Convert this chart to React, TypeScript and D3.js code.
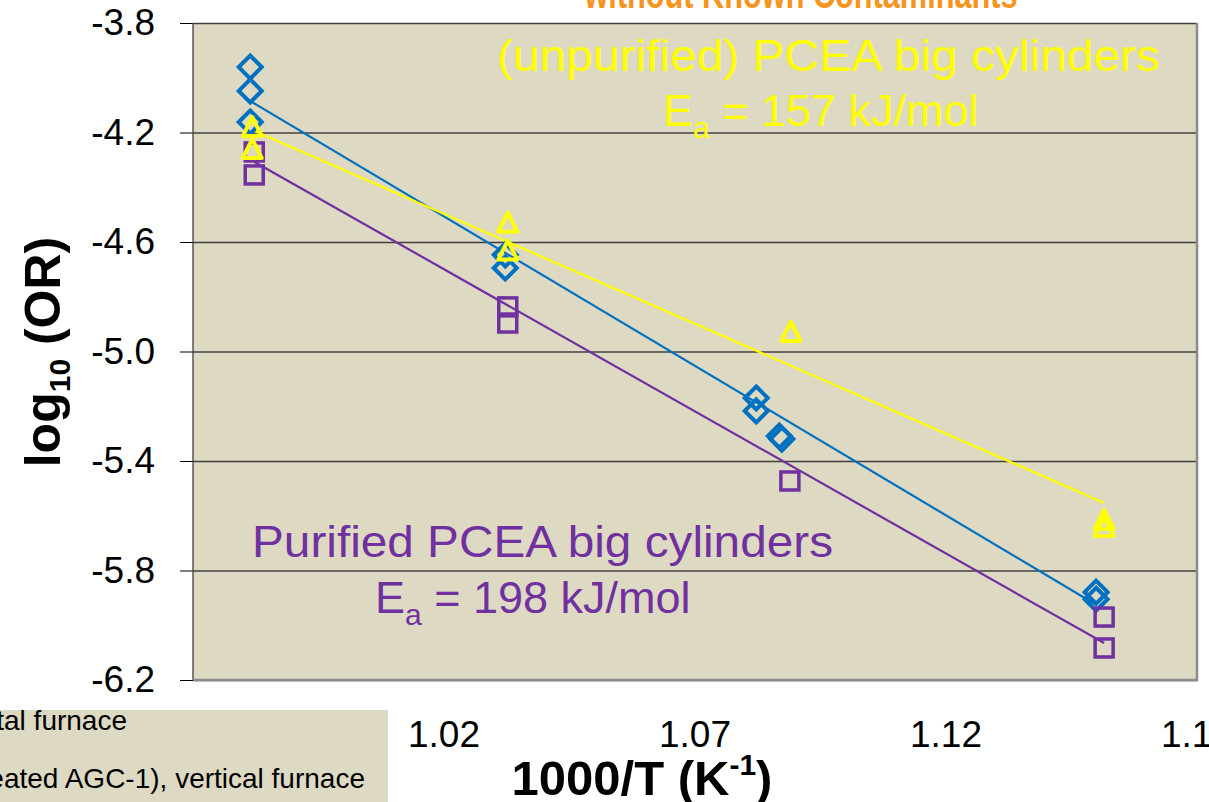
import React, { useEffect, useRef } from 'react';
import * as d3 from 'd3';

// series: 1000/T (K^-1) and log10(OR)
const diamondX = [0.9814, 0.9814, 0.9814, 1.0322, 1.0322, 1.0822, 1.0822, 1.0868, 1.0873, 1.1499, 1.1499];
const diamondY = [-3.961, -4.048, -4.162, -4.647, -4.695, -5.170, -5.217, -5.309, -5.320, -5.879, -5.905];

const squareX = [0.9822, 0.9822, 1.0327, 1.0327, 1.0889, 1.1515, 1.1515];
const squareY = [-4.271, -4.355, -4.837, -4.896, -5.473, -5.970, -6.083];

const triangleX = [0.9818, 0.9818, 1.0327, 1.0327, 1.0891, 1.1515, 1.1515];
const triangleY = [-4.184, -4.264, -4.533, -4.635, -4.932, -5.619, -5.645];

// trendline end points (Excel linear fits)
const blueFitX = [0.9814, 1.1499];
const blueFitY = [-4.085, -5.925];
const purpleFitX = [0.9822, 1.1515];
const purpleFitY = [-4.307, -6.065];
const yellowFitX = [0.9818, 1.1515];
const yellowFitY = [-4.191, -5.553];

const yTicks = [-3.8, -4.2, -4.6, -5.0, -5.4, -5.8, -6.2];
const xTicks = [1.02, 1.07, 1.12, 1.17];

const WIDTH = 1209;
const HEIGHT = 802;
const FONT = 'Arial, "Liberation Sans", sans-serif';
const BLUE = '#0070C0';
const PURPLE = '#7030A0';
const YELLOW = '#FFFF00';
const TAN = '#DDD9C3';

const App = () => {
  const svgRef = useRef<SVGSVGElement>(null);

  useEffect(() => {
    if (!svgRef.current) return;
    const svg = d3.select(svgRef.current);
    svg.selectAll('*').remove();

    const left = 193, right = 1197, top = 23, bottom = 680;

    const x = d3.scaleLinear().domain([0.97, 1.17]).range([left, right]);
    const y = d3.scaleLinear().domain([-3.8, -6.2]).range([top, bottom]);

    // title, cut off at the top of the picture
    svg.append('text')
      .attr('x', 801).attr('y', 8)
      .attr('text-anchor', 'middle')
      .attr('font-family', FONT).attr('font-weight', 'bold').attr('font-size', 40)
      .attr('fill', '#F7941D')
      .attr('textLength', 433).attr('lengthAdjust', 'spacingAndGlyphs')
      .text('without Known Contaminants');

    // plot area
    svg.append('rect')
      .attr('x', left).attr('y', top)
      .attr('width', right - left).attr('height', bottom - top)
      .attr('fill', TAN);

    // gridlines + y axis
    const yAxis = svg.append('g')
      .attr('transform', `translate(${left},0)`)
      .call(d3.axisLeft(y).tickValues(yTicks).tickSize(13).tickFormat(d => (+d).toFixed(1)))
      .call(g => g.select('.domain').remove());
    yAxis.selectAll('.tick line').attr('stroke', '#000').attr('stroke-width', 1);
    yAxis.selectAll('.tick text')
      .attr('x', -38)
      .attr('font-family', FONT).attr('font-size', 37).attr('fill', '#000');
    yAxis.selectAll('.tick line').clone()
      .attr('x2', right - left)
      .attr('stroke', '#404040').attr('stroke-width', 1.3);

    // plot border
    svg.append('line').attr('x1', left).attr('x2', left).attr('y1', top).attr('y2', bottom)
      .attr('stroke', '#404040').attr('stroke-width', 1.3);
    svg.append('path')
      .attr('d', `M${left},${bottom}H${right}V${top}`)
      .attr('fill', 'none').attr('stroke', '#8c8c8c').attr('stroke-width', 2.5);

    // x tick labels
    svg.append('g').selectAll('text')
      .data(xTicks)
      .join('text')
      .attr('x', d => x(d)).attr('y', 747)
      .attr('text-anchor', 'middle')
      .attr('font-family', FONT).attr('font-size', 37)
      .text(d => d.toFixed(2));

    // trendlines
    const line = d3.line<[number, number]>().x(d => x(d[0])).y(d => y(d[1]));
    const fits: [number[], number[], string][] = [
      [blueFitX, blueFitY, BLUE],
      [purpleFitX, purpleFitY, PURPLE],
      [yellowFitX, yellowFitY, YELLOW],
    ];
    fits.forEach(([fx, fy, c]) => {
      svg.append('path')
        .attr('d', line(fx.map((v, i) => [v, fy[i]] as [number, number])))
        .attr('fill', 'none').attr('stroke', c).attr('stroke-width', 2.2);
    });

    // markers
    svg.append('g').selectAll('path')
      .data(diamondX.map((v, i) => [v, diamondY[i]]))
      .join('path')
      .attr('transform', d => `translate(${x(d[0])},${y(d[1])})`)
      .attr('d', 'M0,-11.5L11.5,0L0,11.5L-11.5,0Z')
      .attr('fill', 'none').attr('stroke', BLUE).attr('stroke-width', 4);

    svg.append('g').selectAll('rect')
      .data(squareX.map((v, i) => [v, squareY[i]]))
      .join('rect')
      .attr('x', d => x(d[0]) - 9).attr('y', d => y(d[1]) - 9)
      .attr('width', 18).attr('height', 18)
      .attr('fill', 'none').attr('stroke', PURPLE).attr('stroke-width', 3.5);

    svg.append('g').selectAll('path')
      .data(triangleX.map((v, i) => [v, triangleY[i]]))
      .join('path')
      .attr('transform', d => `translate(${x(d[0])},${y(d[1])})`)
      .attr('d', 'M0,-11L9.5,8L-9.5,8Z')
      .attr('fill', 'none').attr('stroke', YELLOW).attr('stroke-width', 4)
      .attr('stroke-linejoin', 'round');

    // annotations
    const note = (tx: number, ty: number, txt: string, color: string, len: number) =>
      svg.append('text')
        .attr('x', tx).attr('y', ty)
        .attr('font-family', FONT).attr('font-size', 45).attr('fill', color)
        .attr('textLength', len).attr('lengthAdjust', 'spacingAndGlyphs')
        .text(txt);

    const ea = (tx: number, ty: number, rest: string, color: string) => {
      const t = svg.append('text')
        .attr('x', tx).attr('y', ty)
        .attr('font-family', FONT).attr('font-size', 45).attr('fill', color);
      t.append('tspan').text('E');
      t.append('tspan').attr('font-size', 30).attr('dy', 12).text('a');
      t.append('tspan').attr('dy', -12).text(rest);
    };

    note(497, 71, '(unpurified) PCEA big cylinders', YELLOW, 663);
    ea(663, 126, ' = 157 kJ/mol', YELLOW);
    note(252, 557, 'Purified PCEA big cylinders', PURPLE, 581);
    ea(375, 613, ' = 198 kJ/mol', PURPLE);

    // axis titles
    const xt = svg.append('text')
      .attr('x', 642).attr('y', 795)
      .attr('text-anchor', 'middle')
      .attr('font-family', FONT).attr('font-weight', 'bold').attr('font-size', 49);
    xt.append('tspan').text('1000/T (K');
    xt.append('tspan').attr('font-size', 30).attr('dy', -20).text('-1');
    xt.append('tspan').attr('dy', 20).text(')');

    const yt = svg.append('text')
      .attr('transform', 'translate(60,352) rotate(-90)')
      .attr('text-anchor', 'middle')
      .attr('font-family', FONT).attr('font-weight', 'bold').attr('font-size', 50);
    yt.append('tspan').text('log');
    yt.append('tspan').attr('font-size', 30).attr('dy', 10).text('10');
    yt.append('tspan').attr('dy', -10).text(' (OR)');

    // legend box, mostly off the left edge as in the source slide
    svg.append('rect')
      .attr('x', 0).attr('y', 710).attr('width', 388).attr('height', HEIGHT - 710)
      .attr('fill', TAN);
    svg.append('text')
      .attr('x', 127).attr('y', 730).attr('text-anchor', 'end')
      .attr('font-family', FONT).attr('font-size', 28)
      .text('Purified PCEA, horizontal furnace');
    svg.append('text')
      .attr('x', 365).attr('y', 788).attr('text-anchor', 'end')
      .attr('font-family', FONT).attr('font-size', 28)
      .text('PCEA big cylinders (untreated AGC-1), vertical furnace');
  }, []);

  return (
    <div style={{ position: 'absolute', left: 0, top: 0, width: WIDTH, height: HEIGHT, overflow: 'hidden', background: '#fff' }}>
      <svg ref={svgRef} width={WIDTH} height={HEIGHT} viewBox={`0 0 ${WIDTH} ${HEIGHT}`} />
    </div>
  );
};

export default App;
